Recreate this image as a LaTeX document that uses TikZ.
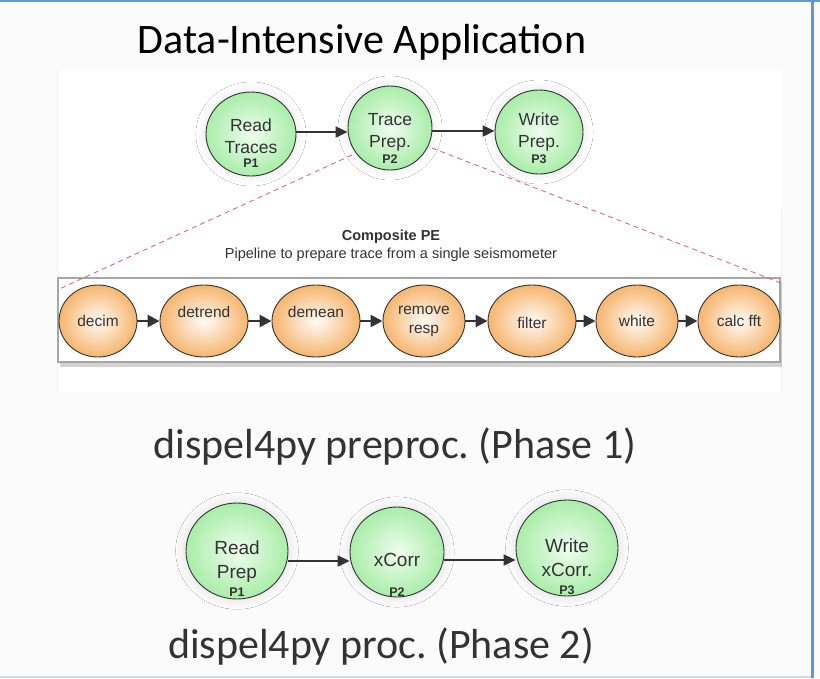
\documentclass[tikz,border=0pt]{standalone}
\usepackage{fontspec}
\setmainfont{Liberation Sans}
\newfontfamily\calibri{Carlito}
\usetikzlibrary{arrows.meta,shapes.geometric,shadows,shadows.blur}
\frenchspacing
\definecolor{pagebg}{HTML}{FBFBFB}
\definecolor{frameblue}{HTML}{5B9BD5}
\definecolor{framelight}{HTML}{C9DBEE}
\definecolor{peedge}{HTML}{333333}
\definecolor{greenout}{HTML}{A9EDA9}
\definecolor{greenin}{HTML}{EEFDEE}
\definecolor{orangeout}{HTML}{F6B56E}
\definecolor{orangein}{HTML}{FFFBF6}
\definecolor{zoomline}{HTML}{D4698C}
\definecolor{txtgray}{HTML}{333333}
\tikzset{
  greenpe/.style={ellipse, draw=peedge, line width=0.9pt, inner color=greenin, outer color=greenout,
    blur shadow={shadow blur steps=12, shadow blur radius=8pt, shadow xshift=0pt, shadow yshift=0pt,
      shadow scale=1.04, shadow opacity=9}},
  orangepe/.style={ellipse, draw=peedge, line width=0.9pt, inner color=orangein, outer color=orangeout},
  petext/.style={font=\fontsize{17.5}{22}\selectfont, text=txtgray, align=center, inner sep=0pt},
  petextb/.style={font=\fontsize{19}{24}\selectfont, text=txtgray, align=center, inner sep=0pt},
  steptext/.style={font=\fontsize{15.5}{19}\selectfont, text=txtgray, align=center, inner sep=0pt},
  flow/.style={-{Triangle[length=12pt,width=11pt]}, line width=2.2pt, draw=peedge},
  pipe/.style={-{Triangle[length=12pt,width=12pt]}, line width=2.6pt, draw=peedge},
  zoomed/.style={dashed, dash pattern=on 5pt off 4pt, draw=zoomline, line width=0.9pt},
  pnum/.style={font=\bfseries\fontsize{12.5}{12.5}\selectfont, text=txtgray, inner sep=0pt},
  caption/.style={font=\calibri\fontsize{42}{42}\selectfont, anchor=base},
}
\begin{document}
\begin{tikzpicture}[x=1pt, y=-1pt]
% page and frame
\fill[pagebg] (0,0) rectangle (820,678);
\useasboundingbox (0,0) rectangle (820,678);
\fill[white] (57,70) rectangle (781,392);
\draw[gray!12, line width=0.6pt] (57,70) -- (57,392);
\draw[gray!12, line width=0.6pt] (781,210) -- (781,392);
\draw[frameblue, line width=2pt] (0,1) -- (820,1);
\draw[frameblue, line width=3pt] (812.5,0) -- (812.5,678);
\draw[framelight, line width=1.2pt] (0,677) -- (811,677);

% title
\node[caption, text=black] (title) at (362,53) {Data-Intensive Application};

% top-level workflow
\node[greenpe, minimum width=90pt, minimum height=84pt, inner sep=0pt] (rt) at (251,134) {};
\node[greenpe, minimum width=84pt, minimum height=84pt, inner sep=0pt] (tp) at (390,128) {};
\node[greenpe, minimum width=88pt, minimum height=84pt, inner sep=0pt] (wp) at (539,132) {};
\node[petext] (rtl) at (251,136) {Read\\Traces};
\node[pnum] (rtn) at (251,163) {P1};
\node[petext] (tpl) at (390,132) {Trace\\Prep.};
\node[pnum] (tpn) at (390,159) {P2};
\node[petext] (wpl) at (539,132) {Write\\Prep.};
\node[pnum] (wpn) at (539,159) {P3};
\draw[flow] (rt.east |- 0,132) -- (tp.west |- 0,132);
\draw[flow] (tp.east |- 0,131) -- (wp.west |- 0,131);

% composite PE box
\node[draw=gray!70, line width=1.4pt, fill=white, minimum width=722pt, minimum height=84pt, inner sep=0pt,
  drop shadow={shadow xshift=2pt, shadow yshift=-5pt, opacity=0.35, fill=gray}] (box) at (419,320) {};
\coordinate (tpl-a) at (352,155);
\coordinate (tpr-a) at (432,148);
\coordinate (boxl) at (57,290);
\coordinate (boxr) at (781,283);
\draw[zoomed] (tpl-a) -- (boxl);
\draw[zoomed] (tpr-a) -- (boxr);
\node[font=\bfseries\fontsize{14.5}{15}\selectfont, text=txtgray] (cpe) at (391,237) {Composite PE};
\node[font=\fontsize{14.5}{15}\selectfont, text=txtgray] (cpesub) at (391,255) {Pipeline to prepare trace from a single seismometer};

% pipeline steps
\node[orangepe, minimum width=78pt, minimum height=72pt, inner sep=0pt] (s1) at (98,321) {};
\node[orangepe, minimum width=88pt, minimum height=72pt, inner sep=0pt] (s2) at (204,321) {};
\node[orangepe, minimum width=88pt, minimum height=72pt, inner sep=0pt] (s3) at (316,321) {};
\node[orangepe, minimum width=82pt, minimum height=72pt, inner sep=0pt] (s4) at (424,321) {};
\node[orangepe, minimum width=88pt, minimum height=72pt, inner sep=0pt] (s5) at (532,321) {};
\node[orangepe, minimum width=82pt, minimum height=72pt, inner sep=0pt] (s6) at (637,321) {};
\node[orangepe, minimum width=82pt, minimum height=72pt, inner sep=0pt] (s7) at (739,321) {};
\node[steptext] (s1l) at (98,321) {decim};
\node[steptext] (s2l) at (204,312) {detrend};
\node[steptext] (s3l) at (316,312) {demean};
\node[steptext] (s4l) at (424,321) {remove\\resp};
\node[steptext] (s5l) at (532,323) {filter};
\node[steptext] (s6l) at (637,321) {white};
\node[steptext] (s7l) at (739,321) {calc fft};
\foreach \a/\b in {s1/s2,s2/s3,s3/s4,s4/s5,s5/s6,s6/s7}
  \draw[pipe] (\a.east) -- (\b.west);

\node[caption, text=txtgray] (ph1) at (395,458) {dispel4py preproc. (Phase 1)};

% second phase workflow
\node[greenpe, minimum width=102pt, minimum height=96pt, inner sep=0pt] (rp) at (237,551) {};
\node[greenpe, minimum width=94pt, minimum height=90pt, inner sep=0pt] (xc) at (397,552) {};
\node[greenpe, minimum width=102pt, minimum height=96pt, inner sep=0pt] (wx) at (567,548) {};
\node[petextb] (rpl) at (237,562) {Read\\Prep};
\node[pnum] (rpn) at (237,592) {P1};
\node[petextb] (xcl) at (397,560) {xCorr};
\node[pnum] (xcn) at (397,592) {P2};
\node[petextb] (wxl) at (567,558) {Write\\xCorr.};
\node[pnum] (wxn) at (567,590) {P3};
\draw[flow] (rp.east |- 0,561) -- (xc.west |- 0,561);
\draw[flow] (xc.east |- 0,560) -- (wx.west |- 0,560);

\node[caption, text=txtgray] (ph2) at (381,658) {dispel4py proc. (Phase 2)};
\end{tikzpicture}
\end{document}
